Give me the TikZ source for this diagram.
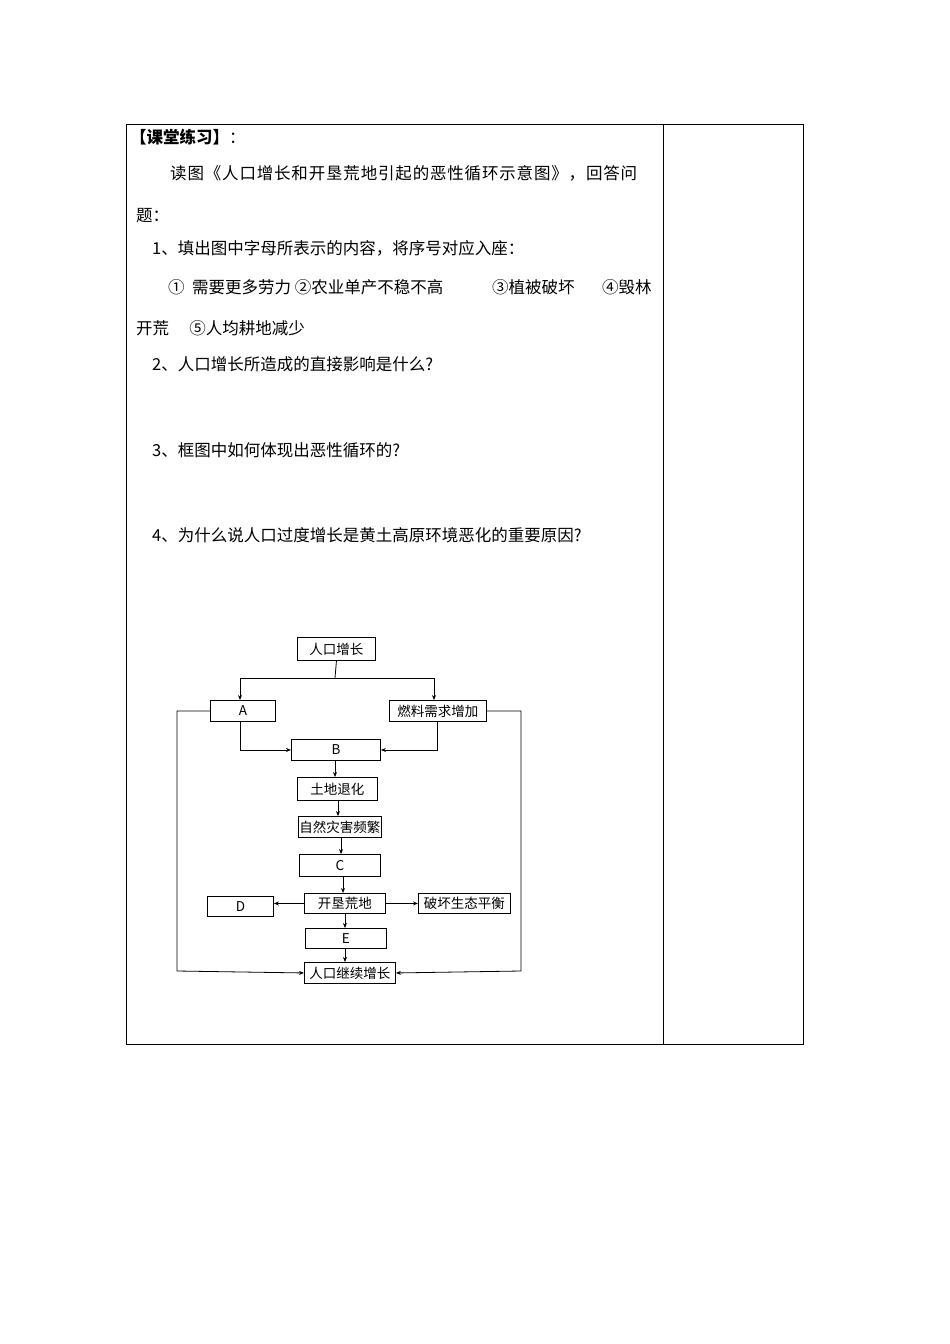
\documentclass[tikz,border=0pt]{standalone}
\usepackage{fontspec}
\setmainfont{Noto Sans CJK SC}
\newfontfamily\cjk{Noto Sans CJK SC}
\usetikzlibrary{arrows.meta}
\tikzset{
 bx/.style={draw,line width=0.9pt,inner sep=0pt,anchor=north west,font=\fontsize{13.5}{14}\selectfont},
 ar/.style={line width=0.8pt,-{Stealth[length=5pt,width=4pt]}},
 ln/.style={line width=0.8pt},
 tx/.style={anchor=west,inner sep=0pt,font=\fontsize{16.5}{17}\selectfont}
}
\newcommand{\mbx}[6]{\node[bx,minimum width=#4pt,minimum height=#5pt] (#1) at (#2,#3) {#6};}
\begin{document}
\begin{tikzpicture}[x=1pt,y=-1pt]
\useasboundingbox (0,0) rectangle (950,1344);
\draw[line width=0.7pt] (126,124) rectangle (803,1044);
\draw[line width=0.7pt] (663,124) -- (663,1044);
\node[tx] (t0) at (130,137) {\textbf{【课堂练习】}：};
\node[tx] (t1) at (170,173) {\addfontfeature{LetterSpace=5}读图《人口增长和开垦荒地引起的恶性循环示意图》，回答问};
\node[tx] (t2) at (136,216) {题：};
\node[tx] (t3) at (152,248) {1、填出图中字母所表示的内容，将序号对应入座：};
\node[tx] (t4a) at (168,287) {①\ \ 需要更多劳力 ②农业单产不稳不高};
\node[tx] (t4b) at (492,287) {③植被破坏};
\node[tx] (t4c) at (602,287) {④毁林};
\node[tx] (t5) at (136,328) {开荒\quad\ ⑤人均耕地减少};
\node[tx] (t6) at (152,364) {2、人口增长所造成的直接影响是什么?};
\node[tx] (t7) at (152,450) {3、框图中如何体现出恶性循环的?};
\node[tx] (t8) at (152,535) {4、为什么说人口过度增长是黄土高原环境恶化的重要原因?};
\mbx{p}{297}{637}{78}{23}{人口增长}
\mbx{a}{210}{700}{65}{21}{A}
\mbx{f}{389}{700}{97}{21}{燃料需求增加}
\mbx{b}{291}{739}{89}{21}{B}
\mbx{t}{297}{777}{80}{23}{土地退化}
\mbx{z}{298}{816}{83}{21}{自然灾害频繁}
\mbx{c}{299}{854}{81}{22}{C}
\mbx{k}{304}{893}{81}{20}{开垦荒地}
\mbx{d}{207}{896}{66}{20}{D}
\mbx{s}{418}{893}{92}{20}{破坏生态平衡}
\mbx{e}{305}{928}{81}{20}{E}
\mbx{r}{304}{962}{91}{21}{人口继续增长}
\draw[ln] (p.south) -- (335,678);
\draw[ar] (240,678) -- (240,700);
\draw[ar] (434,678) -- (434,700);
\draw[ln] (240,678) -- (434,678);
\draw[ar] (240,721) |- (b.west);
\draw[ar] (437,721) |- (b.east);
\draw[ar] (b.south -| 335,0) -- (t.north -| 335,0);
\draw[ar] (338,800) -- (338,816);
\draw[ar] (341,837) -- (341,854);
\draw[ar] (343,876) -- (343,893);
\draw[ar] (k.west) -- (d.east |- k.west);
\draw[ar] (k.east) -- (s.west);
\draw[ar] (345,913) -- (345,928);
\draw[ar] (345,948) -- (345,962);
\draw[ar] (a.west) -- (177,711) -- (177,971) -- (r.west);
\draw[ar] (f.east) -- (521,711) -- (521,971) -- (r.east);
\end{tikzpicture}
\end{document}
